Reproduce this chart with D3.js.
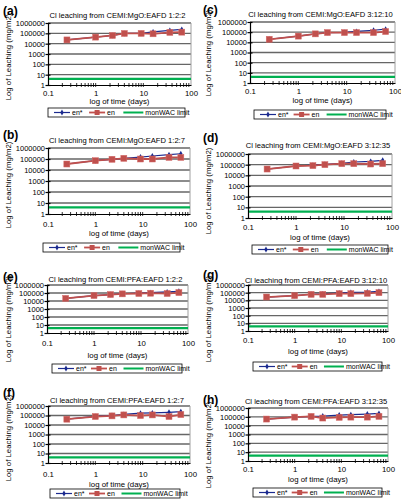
<!DOCTYPE html>
<html><head><meta charset="utf-8">
<script src="https://cdnjs.cloudflare.com/ajax/libs/d3/7.8.5/d3.min.js"></script>
<style>body{margin:0;background:#fff}svg{display:block}text{font-family:"Liberation Sans",Arial,sans-serif}</style>
</head><body><svg id="c" width="401" height="500"></svg>
<script>
// ---------- data ----------
const days = [0.25, 1, 2.25, 4, 9, 16, 36, 64];
const xTickValues = [0.1, 1, 10, 100];
const yTickValues = [1, 10, 100, 1000, 10000, 100000, 1000000];
const seriesNames = ["en*", "en", "monWAC limit"];
const monWACLimit = 4;
const panelLabels = ["(a)", "(c)", "(b)", "(d)", "(e)", "(g)", "(f)", "(h)"];
const panelTitles = [
  "Cl leaching from CEMI:MgO:EAFD 1:2:2",
  "Cl leaching from CEMI:MgO:EAFD 3:12:10",
  "Cl leaching from CEMI:MgO:EAFD 1:2:7",
  "Cl leaching from CEMI:MgO:EAFD 3:12:35",
  "Cl leaching from CEMI:PFA:EAFD 1:2:2",
  "Cl leaching from CEMI:PFA:EAFD 3:12:10",
  "Cl leaching from CEMI:PFA:EAFD 1:2:7",
  "Cl leaching from CEMI:PFA:EAFD 3:12:35"
];
const enStarA = [23000, 43000, 62000, 97000, 100000, 140000, 190000, 240000];
const enA     = [23000, 43000, 62000, 97000, 98000, 90000, 123000, 130000];
const enStarC = [20000, 41000, 68000, 91000, 95000, 120000, 155000, 195000];
const enC     = [20000, 41000, 68000, 91000, 91000, 91000, 91000, 115000];
const enStarB = [35000, 70000, 94000, 115000, 150000, 187000, 245000, 300000];
const enB     = [35000, 70000, 94000, 115000, 100000, 100000, 140000, 140000];
const enStarD = [39000, 75000, 90000, 108000, 135000, 178000, 206000, 256000];
const enD     = [39000, 75000, 81000, 100000, 124000, 124000, 115000, 124000];
const enStarE = [21000, 48000, 64000, 80000, 95000, 113000, 137000, 165000];
const enE     = [21000, 48000, 64000, 78000, 86000, 94000, 86000, 113000];
const enStarG = [27000, 41000, 62000, 68000, 90000, 110000, 122000, 148000];
const enG     = [27000, 41000, 60000, 60000, 74000, 74000, 82000, 100000];
const enStarF = [41000, 80000, 100000, 130000, 174000, 186000, 218000, 256000];
const enF     = [41000, 78000, 91000, 115000, 98000, 115000, 78000, 125000];
const enStarH = [56000, 93000, 112000, 124000, 160000, 175000, 207000, 246000];
const enH     = [56000, 93000, 112000, 73000, 87000, 93000, 93000, 112000];
const enStarData = [enStarA, enStarC, enStarB, enStarD, enStarE, enStarG, enStarF, enStarH];
const enData = [enA, enC, enB, enD, enE, enG, enF, enH];

// ---------- layout (positions only) ----------
const layout = [
  {ox:0,   lab:[3,15],   tY:15,  L:48,  R:191, T:23,  B:85,  xl:93,  xt:101, yc:57,  lg:[48,108,185]},
  {ox:200, lab:[203,14], tY:14,  L:250, R:395, T:22,  B:83,  xl:91,  xt:100, yc:53,  lg:[254,110,386]},
  {ox:0,   lab:[3,139],  tY:140, L:48,  R:190, T:148, B:214, xl:224, xt:233, yc:185, lg:[43,243,180]},
  {ox:200, lab:[203,142],tY:145, L:248, R:392, T:154, B:218, xl:227, xt:237, yc:191, lg:[252,245,388]},
  {ox:0,   lab:[3,281],  tY:279, L:47,  R:188, T:285, B:333, xl:343, xt:355, yc:319, lg:[52,364,182]},
  {ox:200, lab:[203,279],tY:280, L:248, R:388, T:285, B:331, xl:340, xt:351, yc:319, lg:[253,362,382]},
  {ox:0,   lab:[3,397],  tY:400, L:48,  R:190, T:406, B:463, xl:474, xt:484, yc:438, lg:[50,489,180]},
  {ox:200, lab:[203,404],tY:401, L:248, R:388, T:408, B:461, xl:469, xt:479, yc:445, lg:[253,488,382]}
];

const col = {blue:"#1b2a8f", red:"#c0504d", green:"#00b050", grid:"#666666"};
const svg = d3.select("#c");

layout.forEach((p, i) => {
  const g = svg.append("g");
  const x = d3.scaleLog().domain([0.1, 100]).range([p.L, p.R]);
  const y = d3.scaleLog().domain([1, 1000000]).range([p.B, p.T]);

  g.append("text").attr("x", p.lab[0]).attr("y", p.lab[1])
    .attr("font-size", 12).attr("font-weight", "bold").text(panelLabels[i]);
  g.append("text").attr("x", (p.L + p.R) / 2 - 2).attr("y", p.tY).attr("dy", "0.35em")
    .attr("text-anchor", "middle").attr("font-size", 7.6).text(panelTitles[i]);

  g.append("g").selectAll("line").data(yTickValues.slice(1)).join("line")
    .attr("x1", p.L).attr("x2", p.R).attr("y1", d => y(d)).attr("y2", d => y(d))
    .attr("stroke", col.grid).attr("stroke-width", 1.3);
  g.append("line").attr("x1", p.R).attr("x2", p.R).attr("y1", p.T).attr("y2", p.B)
    .attr("stroke", "#a0a0a0").attr("stroke-width", 1);

  const ya = d3.axisLeft(y).tickValues(yTickValues).tickFormat(d3.format("d")).tickSize(2.5).tickSizeOuter(0);
  const yg = g.append("g").attr("transform", `translate(${p.L},0)`).call(ya);
  yg.select(".domain").attr("stroke", "#000").attr("stroke-width", 1.2);
  yg.selectAll(".tick line").attr("x2", 2.5).attr("x1", -2.5).attr("stroke-width", 1.2);
  yg.selectAll("text").attr("font-size", 7.5).attr("x", -3).attr("font-family", "Liberation Sans");

  const xa = d3.axisBottom(x).tickValues(xTickValues).tickFormat(d => String(d)).tickSize(0).tickSizeOuter(0);
  const xg = g.append("g").attr("transform", `translate(0,${p.B})`).call(xa);
  xg.select(".domain").attr("stroke", "#000").attr("stroke-width", 1.2);
  xg.selectAll("text").attr("font-size", 7.8).attr("y", p.xl - p.B).attr("dy", "0.35em").attr("font-family", "Liberation Sans");
  const minor = x.ticks().filter(d => d > 0.1 && d < 100);
  g.append("g").selectAll("line").data(minor).join("line")
    .attr("x1", d => x(d)).attr("x2", d => x(d)).attr("y1", p.B - 2).attr("y2", p.B + 2)
    .attr("stroke", "#000").attr("stroke-width", 0.8);

  g.append("text").attr("x", (p.L + p.R) / 2).attr("y", p.xt).attr("dy", "0.35em")
    .attr("text-anchor", "middle").attr("font-size", 7.8).text("log of time (days)");
  g.append("text").attr("transform", `translate(${p.ox + 8},${p.yc}) rotate(-90)`)
    .attr("dy", "0.35em").attr("text-anchor", "middle").attr("font-size", 7.8).text("Log of Leaching (mg/m2)");

  g.append("line").attr("x1", p.L + 1).attr("x2", p.R).attr("y1", y(monWACLimit)).attr("y2", y(monWACLimit))
    .attr("stroke", col.green).attr("stroke-width", 2.2);

  const line = d3.line().x((d, k) => x(days[k])).y(d => y(d));
  g.append("path").attr("d", line(enStarData[i])).attr("fill", "none").attr("stroke", col.blue).attr("stroke-width", 1.2);
  g.append("g").selectAll("path").data(enStarData[i]).join("path")
    .attr("d", d3.symbol(d3.symbolDiamond, 10)).attr("transform", (d, k) => `translate(${x(days[k])},${y(d)})`)
    .attr("fill", col.blue);
  g.append("path").attr("d", line(enData[i])).attr("fill", "none").attr("stroke", col.red).attr("stroke-width", 1.8);
  g.append("g").selectAll("rect").data(enData[i]).join("rect")
    .attr("x", (d, k) => x(days[k]) - 3).attr("y", d => y(d) - 3).attr("width", 6).attr("height", 6)
    .attr("fill", col.red).attr("stroke", "#d46a68").attr("stroke-width", 0.5);

  const [lx, ly, lr] = p.lg;
  const lw = lr - lx, lh = 9;
  const lgG = g.append("g");
  lgG.append("rect").attr("x", lx).attr("y", ly).attr("width", lw).attr("height", lh)
    .attr("fill", "#fff").attr("stroke", "#000").attr("stroke-width", 0.8);
  const cy = ly + lh / 2;
  const items = [
    {x0: lx + 6, len: 16, c: col.blue, m: "d", w: 1.2},
    {x0: lx + lw * 0.3, len: 16, c: col.red, m: "s", w: 1.8},
    {x0: lx + lw * 0.55, len: 20, c: col.green, m: null, w: 2}
  ];
  items.forEach((it, k) => {
    lgG.append("line").attr("x1", it.x0).attr("x2", it.x0 + it.len).attr("y1", cy).attr("y2", cy)
      .attr("stroke", it.c).attr("stroke-width", it.w);
    if (it.m === "d") lgG.append("path").attr("d", d3.symbol(d3.symbolDiamond, 10))
      .attr("transform", `translate(${it.x0 + it.len / 2},${cy})`).attr("fill", it.c);
    if (it.m === "s") lgG.append("rect").attr("x", it.x0 + it.len / 2 - 2.5).attr("y", cy - 2.5)
      .attr("width", 5).attr("height", 5).attr("fill", it.c);
    lgG.append("text").attr("x", it.x0 + it.len + 2).attr("y", cy).attr("dy", "0.35em")
      .attr("font-size", 7).text(seriesNames[k]);
  });
});
</script></body></html>
